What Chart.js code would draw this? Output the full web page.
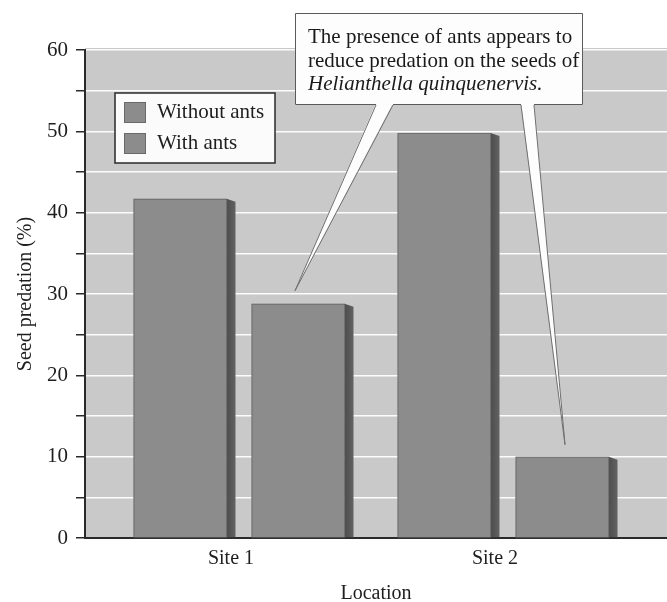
<!DOCTYPE html>
<html><head><meta charset="utf-8">
<script src="https://cdn.jsdelivr.net/npm/chart.js@4/dist/chart.umd.min.js"></script>
<style>html,body{margin:0;padding:0;background:#fff}#wrap{width:667px;height:602px}</style>
</head><body><div id="wrap"><canvas id="c" width="667" height="602"></canvas></div>
<script>
const categories = ['Site 1', 'Site 2'];
const seriesNames = ['Without ants', 'With ants'];
const withoutAnts = [41.7, 49.8];
const withAnts = [28.8, 10.0];
const yTickLabels = [0, 10, 20, 30, 40, 50, 60];
const annotationLines = ['The presence of ants appears to', 'reduce predation on the seeds of', 'Helianthella quinquenervis.'];
const xTitle = 'Location';
const yTitle = 'Seed predation (%)';

const SERIF = "'Liberation Serif', 'DejaVu Serif', serif";
const BAR = '#8c8c8c';

const bgPlugin = {
  id: 'bg',
  beforeDraw(chart) {
    const {ctx, chartArea: a} = chart;
    ctx.save();
    ctx.fillStyle = '#c9c9c9';
    ctx.fillRect(a.left, a.top - 2, a.right - a.left, a.bottom - a.top + 2);
    ctx.restore();
  }
};

const sidePlugin = {
  id: 'side',
  afterDatasetsDraw(chart) {
    const ctx = chart.ctx;
    ctx.save();
    chart.data.datasets.forEach((ds, i) => {
      chart.getDatasetMeta(i).data.forEach(el => {
        const p = el.getProps(['x', 'y', 'base', 'width'], true);
        const r = p.x + p.width / 2;
        const g = ctx.createLinearGradient(r, 0, r + 9, 0);
        g.addColorStop(0, '#4c4c4c');
        g.addColorStop(1, '#626262');
        ctx.fillStyle = g;
        ctx.beginPath();
        ctx.moveTo(r, p.y);
        ctx.lineTo(r + 9, p.y + 3);
        ctx.lineTo(r + 9, p.base);
        ctx.lineTo(r, p.base);
        ctx.closePath();
        ctx.fill();
        ctx.strokeStyle = 'rgba(90,90,90,0.6)';
        ctx.lineWidth = 1;
        ctx.strokeRect(p.x - p.width / 2 + 0.5, p.y + 0.5, p.width, p.base - p.y);
      });
    });
    ctx.restore();
  }
};

const legendPlugin = {
  id: 'customLegend',
  afterDatasetsDraw(chart) {
    const ctx = chart.ctx;
    ctx.save();
    ctx.fillStyle = '#fbfbfb';
    ctx.fillRect(115, 93, 160, 70);
    ctx.strokeStyle = '#2a2a2a';
    ctx.lineWidth = 1.5;
    ctx.strokeRect(115, 93, 160, 70);
    ctx.font = '21px ' + SERIF;
    ctx.textBaseline = 'alphabetic';
    chart.data.datasets.forEach((ds, i) => {
      const y = 102 + i * 31;
      ctx.fillStyle = ds.backgroundColor;
      ctx.fillRect(124, y, 22, 21);
      ctx.strokeStyle = '#6a6a6a';
      ctx.lineWidth = 1;
      ctx.strokeRect(124.5, y + 0.5, 21, 20);
      ctx.fillStyle = '#1e1e1e';
      ctx.fillText(ds.label, 157, y + 16);
    });
    ctx.restore();
  }
};

const calloutPlugin = {
  id: 'callout',
  afterDatasetsDraw(chart) {
    const ctx = chart.ctx;
    const t1 = chart.getDatasetMeta(1).data[0];
    const t2 = chart.getDatasetMeta(1).data[1];
    const box = {l: 295, t: 13, r: 583, b: 105};
    ctx.save();
    const wedges = [
      [[376, box.b], [393, box.b], [t1.x - 3, t1.y - 13]],
      [[521, box.b], [534, box.b], [t2.x + 3, t2.y - 12]]
    ];
    wedges.forEach(w => {
      ctx.beginPath();
      ctx.moveTo(w[0][0], w[0][1] - 2);
      ctx.lineTo(w[2][0], w[2][1]);
      ctx.lineTo(w[1][0], w[1][1] - 2);
      ctx.closePath();
      ctx.fillStyle = '#fdfdfd';
      ctx.fill();
      ctx.strokeStyle = '#6e6e6e';
      ctx.lineWidth = 1;
      ctx.beginPath();
      ctx.moveTo(w[0][0], w[0][1]);
      ctx.lineTo(w[2][0], w[2][1]);
      ctx.lineTo(w[1][0], w[1][1]);
      ctx.stroke();
    });
    ctx.fillStyle = '#fdfdfd';
    ctx.fillRect(box.l, box.t, box.r - box.l, box.b - box.t);
    ctx.strokeStyle = '#5a5a5a';
    ctx.lineWidth = 1;
    ctx.beginPath();
    ctx.moveTo(box.l + 0.5, box.t + 0.5);
    ctx.lineTo(box.r - 0.5, box.t + 0.5);
    ctx.lineTo(box.r - 0.5, box.b - 0.5);
    ctx.lineTo(wedges[1][1][0], box.b - 0.5);
    ctx.moveTo(wedges[1][0][0], box.b - 0.5);
    ctx.lineTo(wedges[0][1][0], box.b - 0.5);
    ctx.moveTo(wedges[0][0][0], box.b - 0.5);
    ctx.lineTo(box.l + 0.5, box.b - 0.5);
    ctx.lineTo(box.l + 0.5, box.t + 0.5);
    ctx.stroke();
    ctx.fillStyle = '#1a1a1a';
    ctx.textBaseline = 'alphabetic';
    annotationLines.forEach((line, i) => {
      ctx.font = (i === 2 ? 'italic ' : '') + '21px ' + SERIF;
      ctx.fillText(line, 308, 43 + i * 23.5);
    });
    ctx.restore();
  }
};

new Chart(document.getElementById('c'), {
  type: 'bar',
  data: {
    labels: categories,
    datasets: [
      {label: seriesNames[0], data: withoutAnts, backgroundColor: BAR, borderWidth: 0,
       categoryPercentage: 0.894, barPercentage: 0.788},
      {label: seriesNames[1], data: withAnts, backgroundColor: BAR, borderWidth: 0,
       categoryPercentage: 0.894, barPercentage: 0.788}
    ]
  },
  options: {
    responsive: false,
    animation: false,
    devicePixelRatio: 1,
    layout: {padding: {top: 50, right: 0, bottom: 0, left: 0}},
    plugins: {legend: {display: false}, tooltip: {enabled: false}},
    scales: {
      x: {
        type: 'category',
        offset: true,
        grid: {display: false, drawTicks: false},
        border: {display: true, color: '#2a2a2a', width: 2},
        ticks: {font: {family: SERIF, size: 20}, color: '#1e1e1e', padding: 9, labelOffset: -8},
        title: {display: true, text: xTitle, font: {family: SERIF, size: 20}, color: '#1e1e1e',
                padding: {top: 0, bottom: -4}},
        afterBuildTicks(s) { s._startValue = -0.5833; s._valueRange = 2.2045; },
        afterFit(s) { s.height = 64; }
      },
      y: {
        min: 0, max: 60,
        grid: {color: 'rgba(255,255,255,0.95)', lineWidth: 1.5, tickColor: '#2a2a2a', tickLength: 9},
        border: {display: true, color: '#2a2a2a', width: 2},
        ticks: {stepSize: 5, padding: 8, font: {family: SERIF, size: 21}, color: '#1e1e1e',
                callback: v => yTickLabels.includes(v) ? String(v) : ''},
        title: {display: true, text: yTitle, font: {family: SERIF, size: 20}, color: '#1e1e1e',
                padding: {top: 14, bottom: 0}},
        afterFit(s) { s.width = 85; }
      }
    }
  },
  plugins: [bgPlugin, sidePlugin, legendPlugin, calloutPlugin]
});
</script></body></html>
